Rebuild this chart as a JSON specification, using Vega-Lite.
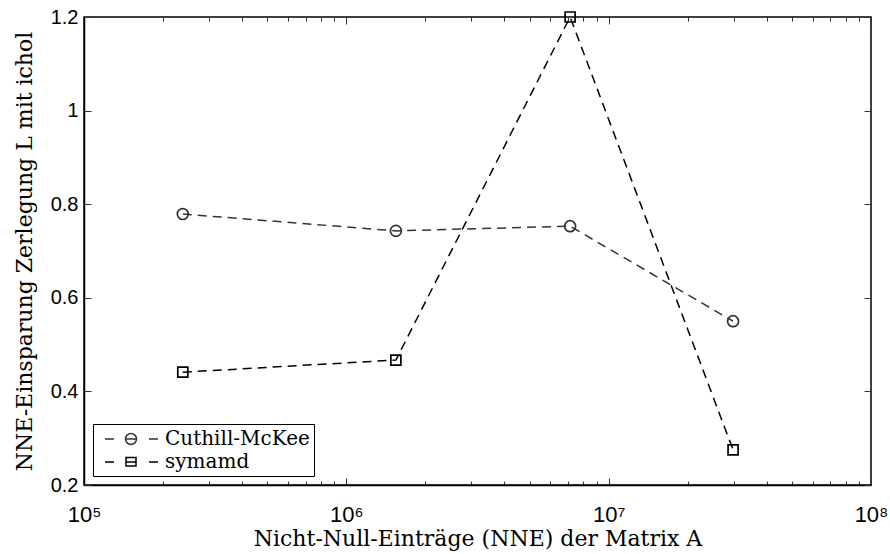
{
  "$schema": "https://vega.github.io/schema/vega-lite/v6.json",
  "width": 787,
  "height": 468,
  "autosize": {"type": "none"},
  "padding": {"left": 84, "top": 17, "right": 19, "bottom": 69},
  "background": "white",
  "config": {
    "view": {"stroke": "black", "strokeWidth": 1.5},
    "axis": {"grid": false, "domainColor": "black", "domainWidth": 1.5, "tickColor": "#333", "labelFont": "Liberation Sans", "labelFontSize": 20, "labelColor": "black", "titleFont": "DejaVu Serif", "titleFontSize": 22, "titleFontWeight": "normal", "titleColor": "black"}
  },
  "data": {"values": [
    {"nne": 238000, "ratio": 0.779, "method": "Cuthill-McKee"},
    {"nne": 1545000, "ratio": 0.743, "method": "Cuthill-McKee"},
    {"nne": 7130000, "ratio": 0.753, "method": "Cuthill-McKee"},
    {"nne": 29800000, "ratio": 0.550, "method": "Cuthill-McKee"},
    {"nne": 238000, "ratio": 0.441, "method": "symamd"},
    {"nne": 1545000, "ratio": 0.467, "method": "symamd"},
    {"nne": 7130000, "ratio": 1.2, "method": "symamd"},
    {"nne": 29800000, "ratio": 0.275, "method": "symamd"}
  ]},
  "layer": [
    {
      "mark": {"type": "line", "strokeDash": [9, 6], "strokeWidth": 1.5, "clip": false},
      "encoding": {
        "x": {"field": "nne", "type": "quantitative",
          "scale": {"type": "log", "domain": [100000, 100000000], "nice": false},
          "axis": {"orient": "bottom", "title": "Nicht-Null-Einträge (NNE) der Matrix A", "titlePadding": 0,
            "values": [100000,200000,300000,400000,500000,600000,700000,800000,900000,1000000,2000000,3000000,4000000,5000000,6000000,7000000,8000000,9000000,10000000,20000000,30000000,40000000,50000000,60000000,70000000,80000000,90000000,100000000],
            "labelExpr": "datum.value == 100000 ? '10⁵' : datum.value == 1000000 ? '10⁶' : datum.value == 10000000 ? '10⁷' : datum.value == 100000000 ? '10⁸' : ''",
            "tickSize": {"condition": {"test": "datum.value == 100000 || datum.value == 1000000 || datum.value == 10000000 || datum.value == 100000000", "value": -7}, "value": -4},
            "labelPadding": 26, "labelFontSize": 22, "labelFlush": false, "labelOverlap": false}},
        "y": {"field": "ratio", "type": "quantitative",
          "scale": {"domain": [0.2, 1.2], "nice": false, "zero": false},
          "axis": {"orient": "left", "title": "NNE-Einsparung Zerlegung L mit ichol", "values": [0.2, 0.4, 0.6, 0.8, 1, 1.2], "format": "~g", "tickSize": -7, "labelPadding": 13, "titlePadding": 14}},
        "color": {"field": "method", "type": "nominal",
          "scale": {"domain": ["Cuthill-McKee", "symamd"], "range": ["#333333", "#000000"]},
          "legend": {"orient": "bottom-left", "offset": 9, "title": null, "strokeColor": "black", "fillColor": "white", "padding": 4, "labelFont": "DejaVu Serif", "labelFontSize": 20, "labelColor": "black", "symbolSize": 400, "symbolStrokeWidth": 1.5, "symbolFillColor": "transparent", "rowPadding": 2, "labelOffset": 46,
            "symbolType": {"expr": "datum.value == 'symamd' ? 'M-0.3,0H0.6M1.8,-0.45H2.8V0.4H1.8ZM1.8,0H2.8M4.1,0H5.0' : 'M-0.3,0H0.6M1.75,0A0.55,0.55 0 1,1 2.85,0A0.55,0.55 0 1,1 1.75,0ZM1.75,0H2.85M4.1,0H5.0'"}}}
      }
    },
    {
      "transform": [{"filter": "datum.method == 'Cuthill-McKee'"}],
      "mark": {"type": "point", "shape": "circle", "filled": false, "strokeWidth": 1.7, "clip": false, "opacity": 1, "size": 120},
      "encoding": {
        "x": {"field": "nne", "type": "quantitative",
          "axis": {"orient": "top", "title": null, "labels": false, "domain": false,
            "values": [100000,200000,300000,400000,500000,600000,700000,800000,900000,1000000,2000000,3000000,4000000,5000000,6000000,7000000,8000000,9000000,10000000,20000000,30000000,40000000,50000000,60000000,70000000,80000000,90000000,100000000],
            "tickSize": {"condition": {"test": "datum.value == 100000 || datum.value == 1000000 || datum.value == 10000000 || datum.value == 100000000", "value": -7}, "value": -4}}},
        "y": {"field": "ratio", "type": "quantitative",
          "axis": {"orient": "right", "title": null, "labels": false, "domain": false, "values": [0.2, 0.4, 0.6, 0.8, 1, 1.2], "tickSize": -7}},
        "color": {"field": "method", "type": "nominal"}
      }
    },
    {
      "transform": [{"filter": "datum.method == 'symamd'"}],
      "mark": {"type": "point", "shape": "square", "filled": false, "strokeWidth": 1.7, "clip": false, "opacity": 1, "size": 100},
      "encoding": {
        "x": {"field": "nne", "type": "quantitative", "axis": null},
        "y": {"field": "ratio", "type": "quantitative", "axis": null},
        "color": {"field": "method", "type": "nominal"}
      }
    }
  ],
  "resolve": {"axis": {"x": "independent", "y": "independent"}}
}
